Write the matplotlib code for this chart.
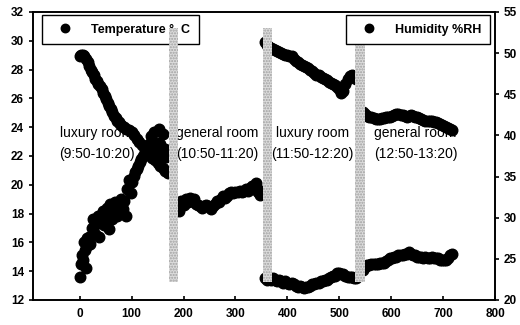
import matplotlib
matplotlib.use('Agg')
import matplotlib.pyplot as plt
import numpy as np

plt.rcParams['font.family'] = ['Liberation Sans', 'DejaVu Sans']

# luxury room 1 (9:50-10:20)
lux1_t_x = [0, 2, 4, 6, 8, 10, 12, 14, 16, 18, 20, 23, 26, 29, 32, 35, 38, 41, 44, 47,
            50, 53, 56, 59, 62, 65, 68, 71, 74, 77, 80, 83, 86, 89, 92, 95, 98, 101, 104, 107,
            110, 113, 116, 119, 122, 125, 128, 131, 134, 137, 140, 143, 146, 149, 152, 155, 158, 161, 164, 167, 170]
lux1_temp = [13.6, 14.5, 15.1, 14.8, 16.0, 15.5, 14.2, 16.3, 15.8, 16.4, 15.9, 17.0, 17.6, 16.6, 17.3, 17.8, 16.4, 17.5, 18.2, 17.2,
             17.9, 18.4, 16.9, 18.7, 17.6, 18.3, 18.8, 17.8, 18.6, 18.4, 19.0, 18.3, 18.9, 17.8, 19.7, 20.3, 19.4, 20.2, 20.6, 20.9,
             21.1, 21.3, 21.6, 21.8, 22.0, 22.3, 22.5, 22.1, 22.8, 23.4, 22.6, 23.7, 22.4, 22.9, 23.9, 22.8, 22.3, 23.5, 22.5, 21.9, 22.2]
lux1_h_x = [0, 3, 6, 9, 12, 15, 18, 21, 24, 27, 30, 33, 36, 39, 42, 45, 48, 51, 54, 57,
            60, 63, 66, 69, 72, 75, 78, 81, 85, 90, 95, 100, 105, 110, 115, 120, 125, 130, 135, 140,
            145, 150, 155, 160, 165, 170]
lux1_hum = [49.7, 49.8, 49.8, 49.6, 49.3, 48.9, 48.4, 48.0, 47.7, 47.3, 46.9, 46.6, 46.3, 46.0, 45.6, 45.2, 44.8, 44.4, 44.0, 43.6,
            43.2, 42.8, 42.4, 42.1, 41.8, 41.6, 41.4, 41.2, 41.0, 40.8, 40.6, 40.4, 40.0, 39.6, 39.2, 38.8, 38.4, 38.0, 37.6, 37.3,
            37.0, 36.6, 36.3, 36.0, 35.7, 35.4]

# general room 1 (10:50-11:20)
gen1_x = [192, 196, 200, 204, 208, 212, 216, 220, 224, 228, 232, 236, 240, 244, 248, 252, 256, 260, 264, 268,
          272, 276, 280, 284, 288, 292, 296, 300, 304, 308, 312, 316, 320, 324, 328, 332, 336, 340, 344, 348, 352]
gen1_temp = [18.2, 18.9, 18.6, 19.0, 18.8, 19.1, 18.9, 19.0, 18.7, 18.6, 18.5, 18.4, 18.5, 18.6, 18.5, 18.3, 18.5, 18.7, 18.9, 18.8,
             19.0, 19.2, 19.1, 19.2, 19.4, 19.5, 19.4, 19.5, 19.5, 19.6, 19.5, 19.6, 19.7, 19.6, 19.8, 19.9, 19.7, 20.1, 19.5, 19.3, 19.6]

# luxury room 2 (11:50-12:20)
lux2_x = [356, 360, 364, 368, 372, 376, 380, 384, 388, 392, 396, 400, 404, 408, 412, 416, 420, 424, 428, 432,
          436, 440, 444, 448, 452, 456, 460, 464, 468, 472, 476, 480, 484, 488, 492, 496, 500, 504, 508, 512,
          516, 520, 524, 528, 532]
lux2_temp = [13.5, 13.4, 13.5, 13.4, 13.5, 13.4, 13.3, 13.4, 13.3, 13.2, 13.3, 13.2, 13.1, 13.2, 13.1, 13.0, 12.9, 13.0, 12.9, 12.8,
             12.9, 12.9, 13.0, 13.1, 13.1, 13.2, 13.2, 13.3, 13.3, 13.4, 13.4, 13.5, 13.6, 13.7, 13.7, 13.9, 13.9, 13.8, 13.8, 13.7,
             13.6, 13.6, 13.6, 13.5, 13.5]
lux2_hum = [51.3, 51.0, 50.8, 50.6, 50.5, 50.4, 50.2, 50.1, 50.0, 49.9, 49.8, 49.8, 49.7, 49.6, 49.3, 49.1, 48.9, 48.7, 48.6, 48.4,
            48.3, 48.2, 48.0, 47.8, 47.6, 47.4, 47.3, 47.1, 47.0, 46.8, 46.7, 46.5, 46.4, 46.2, 46.1, 45.9, 45.7, 45.2, 45.4, 46.2,
            46.8, 47.2, 47.4, 47.2, 46.9]

# general room 2 (12:50-13:20)
gen2_x = [546, 550, 554, 558, 562, 566, 570, 574, 578, 582, 586, 590, 594, 598, 602, 606, 610, 614, 618, 622,
          626, 630, 634, 638, 642, 646, 650, 654, 658, 662, 666, 670, 674, 678, 682, 686, 690, 694, 698, 702,
          706, 710, 714, 718]
gen2_temp = [14.1, 14.3, 14.4, 14.4, 14.5, 14.5, 14.5, 14.5, 14.6, 14.6, 14.6, 14.7, 14.8, 14.9, 14.9, 15.0, 15.0, 15.1, 15.1, 15.1,
             15.2, 15.2, 15.3, 15.2, 15.1, 15.1, 15.0, 15.0, 15.0, 14.9, 15.0, 14.9, 14.9, 15.0, 14.9, 14.9, 14.9, 14.8, 14.8, 14.8,
             14.8, 14.9, 15.1, 15.2]
gen2_hum = [42.9, 42.6, 42.4, 42.3, 42.2, 42.1, 42.0, 42.0, 42.0, 42.1, 42.1, 42.2, 42.2, 42.3, 42.4, 42.5, 42.6, 42.6, 42.5, 42.5,
            42.4, 42.3, 42.4, 42.5, 42.4, 42.3, 42.2, 42.1, 42.0, 41.9, 41.8, 41.8, 41.7, 41.7, 41.6, 41.6, 41.5, 41.4, 41.3, 41.2,
            41.0, 40.9, 40.8, 40.7]

room_labels = ['luxury room\n(9:50-10:20)', 'general room\n(10:50-11:20)',
               'luxury room\n(11:50-12:20)', 'general room\n(12:50-13:20)']
label_x = [33, 265, 449, 647]
break_x = [181, 362, 540]

temp_x = lux1_t_x + gen1_x + lux2_x + gen2_x
temp = lux1_temp + gen1_temp + lux2_temp + gen2_temp
hum_x = lux1_h_x + lux2_x + gen2_x
hum = lux1_hum + lux2_hum + gen2_hum

fig = plt.figure(figsize=(5.2, 3.25), dpi=100)
ax = fig.add_axes([33/520, 25/325, 462/520, 288/325])
ax2 = ax.twinx()

ax.plot(temp_x, temp, 'o', color='black', markersize=7.6, label='Temperature °  C', zorder=2)
ax2.plot(hum_x, hum, 'o', color='black', markersize=7.6, label='Humidity %RH', zorder=2)

for xl, txt in zip(label_x, room_labels):
    ax.text(xl, 22.85, txt, ha='center', va='center', fontsize=10, linespacing=1.6, zorder=0.5)

for bx in break_x:
    ax2.axvspan(bx - 9, bx + 9, ymin=0.0625, ymax=0.945, facecolor='#dcdcdc',
                edgecolor='#a0a0a0', hatch='......', linewidth=0, zorder=5)

ax.set_xlim(-90, 800)
ax.set_ylim(12, 32)
ax2.set_ylim(20, 55)
ax.set_xticks(range(0, 801, 100))
ax.set_yticks(range(12, 33, 2))
ax2.set_yticks(range(20, 56, 5))

for a in (ax, ax2):
    for s in a.spines.values():
        s.set_linewidth(1.2)
ax.tick_params(axis='x', direction='in', length=3, width=1.2, labelsize=8.5, pad=6)
ax.tick_params(axis='y', direction='out', length=3, width=1.2, labelsize=8.5)
ax2.tick_params(axis='y', direction='out', length=3, width=1.2, labelsize=8.5)
for lab in ax.get_xticklabels() + ax.get_yticklabels() + ax2.get_yticklabels():
    lab.set_fontweight('bold')

leg_kw = dict(frameon=True, fancybox=False, borderpad=0.7, handlelength=2.3,
              handletextpad=0.9, borderaxespad=0, markerscale=0.8,
              prop={'weight': 'bold', 'size': 9})
l1 = ax.legend(loc='upper left', bbox_to_anchor=(0.0195, 0.99), **leg_kw)
l2 = ax2.legend(loc='upper right', bbox_to_anchor=(0.989, 0.99), **leg_kw)
for l in (l1, l2):
    l.get_frame().set_edgecolor('black')
    l.get_frame().set_linewidth(1.0)
    l.get_frame().set_alpha(1)
    l.set_zorder(10)

fig.savefig('out.png', dpi=100)
